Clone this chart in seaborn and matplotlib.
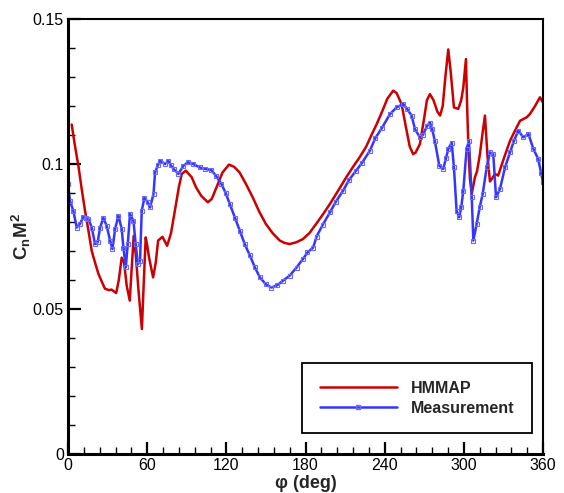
import matplotlib
matplotlib.use("Agg")
import matplotlib.pyplot as plt
import seaborn as sns
import pandas as pd
from matplotlib.ticker import MultipleLocator, FixedLocator
from matplotlib.lines import Line2D

# HMMAP prediction
hm_phi = [2.8, 5, 8, 10.5, 12.9, 15.5, 18, 20.5, 23, 26, 28, 31, 33, 35, 36.5, 38.5,
          40.7, 42.5, 44.5, 46.8, 48, 49.8, 51.5, 53.5, 56.0, 57.5, 58.9, 60, 61.4,
          64.5, 66.5, 68.3, 71.6, 75.1, 78, 81, 84, 86.2, 89.3, 93.8, 97, 101, 106,
          109, 112.5, 117, 122, 126, 130, 135, 140, 145, 150, 155, 160.5, 164, 168,
          173, 178, 183, 188, 193, 198.5, 205, 211, 216, 221, 226, 230, 234, 238,
          242, 246.5, 249, 252.8, 256, 259, 261.6, 263.5, 266.7, 270, 272, 274.3,
          277, 280, 282, 284, 286, 288.2, 290, 292.5, 295.8, 298, 299.6, 301.6,
          302.5, 303.5, 304.6, 306, 308.4, 310, 312.2, 314, 316, 318, 319.8, 321.5,
          323.6, 326, 330, 335, 340, 342.6, 347.6, 350, 354, 357.7, 360]
hm_val = [0.1136, 0.107, 0.099, 0.091, 0.0839, 0.077, 0.070, 0.066, 0.0622, 0.0590,
          0.057, 0.0565, 0.0567, 0.0560, 0.0555, 0.0600,
          0.0677, 0.066, 0.058, 0.0529, 0.062, 0.0752, 0.068, 0.056, 0.0431, 0.060,
          0.0747, 0.072, 0.0678,
          0.0609, 0.066, 0.0736, 0.0749, 0.0718, 0.076, 0.0839, 0.092, 0.0966, 0.0977,
          0.0954, 0.092, 0.089, 0.0868,
          0.088, 0.0919, 0.097, 0.0998, 0.099, 0.0971, 0.093, 0.0885, 0.0835, 0.0793,
          0.0762, 0.0736, 0.0728, 0.0724,
          0.073, 0.0741, 0.0762, 0.0793, 0.0825, 0.0862, 0.091, 0.0955, 0.099, 0.1023,
          0.1060, 0.110, 0.1138, 0.118,
          0.1225, 0.1253, 0.1245, 0.1207, 0.113, 0.106, 0.1034, 0.1040, 0.1069, 0.116,
          0.122, 0.1241,
          0.122, 0.118, 0.1167, 0.120, 0.130, 0.1395, 0.132, 0.1195, 0.119, 0.122,
          0.1264, 0.1362,
          0.120, 0.105, 0.095, 0.0897, 0.0954, 0.0975, 0.1034, 0.110, 0.1167, 0.1023,
          0.0940, 0.0950,
          0.0966, 0.0960, 0.1015, 0.108, 0.1126, 0.1149, 0.1161, 0.1172, 0.120, 0.123,
          0.1212]

# Measurement
ms_phi = [0, 1.5, 4, 6.6, 9, 11.7, 13.5, 15.5, 18, 20.5, 22.5, 24.3, 26.8, 29.3, 31.9,
          33.7, 35.7, 38.2, 40.7, 42, 43.8, 45.3, 47, 49.6, 51.3, 52.9, 54.6, 55.9,
          57.9, 60.4, 62.2, 64.8, 66, 68, 69.8, 73.6, 76, 78, 80, 83.7, 87.5, 91, 95,
          99.9, 104, 108.7, 112, 116.3, 119.5, 122.6, 126.5, 130.2, 134, 137.8, 141.5,
          145.4, 150, 154.2, 158.5, 163, 168, 173.2, 178, 181.5, 185.8, 188.4, 193,
          198.5, 203, 208.5, 213, 218, 223, 228.8, 233, 238, 244, 249, 254, 257,
          260.4, 263, 266.7, 269, 272, 274.3, 276, 278, 281.4, 284.4, 286.5, 288.2,
          290.8, 292.5, 294.5, 296.5, 298, 299.6, 302.1, 303.9, 306, 307.2, 309.7,
          312, 314.3, 317.3, 319.8, 322.3, 324.4, 327.4, 331.2, 335, 338, 341.3, 345,
          349, 352.7, 356.4, 358.5, 360]
ms_val = [0.0931, 0.0873, 0.0839, 0.0781, 0.0793, 0.0818, 0.0815, 0.0810, 0.0781,
          0.0724, 0.0730, 0.0781, 0.0814, 0.0787, 0.0736,
          0.0707, 0.0776, 0.0822, 0.0776, 0.0712, 0.0644, 0.0724, 0.0828, 0.0804,
          0.0724, 0.0655, 0.0667, 0.0839,
          0.0883, 0.0868, 0.0850, 0.0897, 0.0971, 0.0995, 0.1011, 0.1000, 0.1011,
          0.0995, 0.0983, 0.0966, 0.0994, 0.1006, 0.1000,
          0.0988, 0.0983, 0.0979, 0.0960, 0.0931, 0.0900, 0.0862, 0.0815, 0.0770,
          0.0723, 0.0685, 0.0645,
          0.0609, 0.0585, 0.0574, 0.0582, 0.0598, 0.0615, 0.0643, 0.0672, 0.0695,
          0.0712, 0.0750, 0.0790,
          0.0833, 0.0870, 0.0908, 0.0945, 0.0975, 0.1005, 0.1046, 0.1090, 0.1125,
          0.1172, 0.1195, 0.1207, 0.1190,
          0.1167, 0.1120, 0.1092, 0.1100, 0.1130, 0.1143, 0.1120, 0.1080, 0.0994,
          0.0983, 0.1020, 0.1052,
          0.1074, 0.0988, 0.0839, 0.0816, 0.0850, 0.0908, 0.1052, 0.1080, 0.0885,
          0.0736, 0.0793,
          0.0850, 0.0897, 0.0988, 0.1040, 0.1034, 0.0885, 0.0914, 0.0988, 0.1040,
          0.1080, 0.1115, 0.1092,
          0.1103, 0.1052, 0.1017, 0.0970, 0.0937]

x_ticks = [0, 60, 120, 180, 240, 300, 360]
y_ticks = [0, 0.05, 0.1, 0.15]
y_tick_labels = ["0", "0.05", "0.1", "0.15"]

sns.set_style("white")
plt.rcParams["font.family"] = ["Liberation Sans", "DejaVu Sans"]
plt.rcParams["mathtext.fontset"] = "custom"
plt.rcParams["mathtext.rm"] = "Liberation Sans"
plt.rcParams["mathtext.bf"] = "Liberation Sans:bold"

red = "#cc0000"
blue = "#3535ff"

fig = plt.figure(figsize=(5.64, 4.93), dpi=100)
ax = fig.add_axes([68 / 564, 1 - 454 / 493, 475 / 564, 435 / 493])

df_h = pd.DataFrame({"phi": hm_phi, "val": hm_val})
df_m = pd.DataFrame({"phi": ms_phi, "val": ms_val})

sns.lineplot(data=df_h, x="phi", y="val", ax=ax, color=red, lw=1.8,
             sort=False, estimator=None)
sns.lineplot(data=df_m, x="phi", y="val", ax=ax, color=blue, lw=1.8,
             sort=False, estimator=None, marker="s", markersize=3.3,
             markerfacecolor="none", markeredgecolor="#6a6aff", markeredgewidth=0.8)

ax.set_xlim(0, 360)
ax.set_ylim(0, 0.15)
ax.xaxis.set_major_locator(FixedLocator(x_ticks))
ax.xaxis.set_minor_locator(MultipleLocator(12))
ax.yaxis.set_major_locator(FixedLocator(y_ticks))
ax.set_yticklabels(y_tick_labels)
ax.yaxis.set_minor_locator(MultipleLocator(0.01))
ax.tick_params(which="both", direction="in", top=False, right=False,
               left=True, bottom=True, colors="black", labelsize=11.5)
ax.tick_params(which="major", length=9, width=1.6, pad=3)
ax.tick_params(which="minor", length=5, width=1.0)

for side in ["left", "bottom"]:
    ax.spines[side].set_linewidth(2.2)
for side in ["top", "right"]:
    ax.spines[side].set_linewidth(1.5)
for s in ax.spines.values():
    s.set_color("black")

ax.set_xlabel("φ (deg)", fontsize=13, fontweight="bold", labelpad=1)
ax.set_ylabel(r"$\mathbf{C_n M^2}$", fontsize=13.5, labelpad=0)

handles = [Line2D([], [], color=red, lw=1.8),
           Line2D([], [], color=blue, lw=1.8, marker="s", markersize=3.3,
                  markerfacecolor="none", markeredgecolor="#6a6aff")]
leg = ax.legend(handles, ["HMMAP", "Measurement"], loc="lower right",
                bbox_to_anchor=(0.977, 0.048), borderaxespad=0,
                prop={"weight": "bold", "size": 11.5}, handlelength=4.8,
                handletextpad=0.9, borderpad=1.1, labelspacing=0.3,
                numpoints=1, fancybox=False, framealpha=1, edgecolor="black")
leg.get_frame().set_linewidth(1.3)

fig.savefig("out.png", dpi=100)
